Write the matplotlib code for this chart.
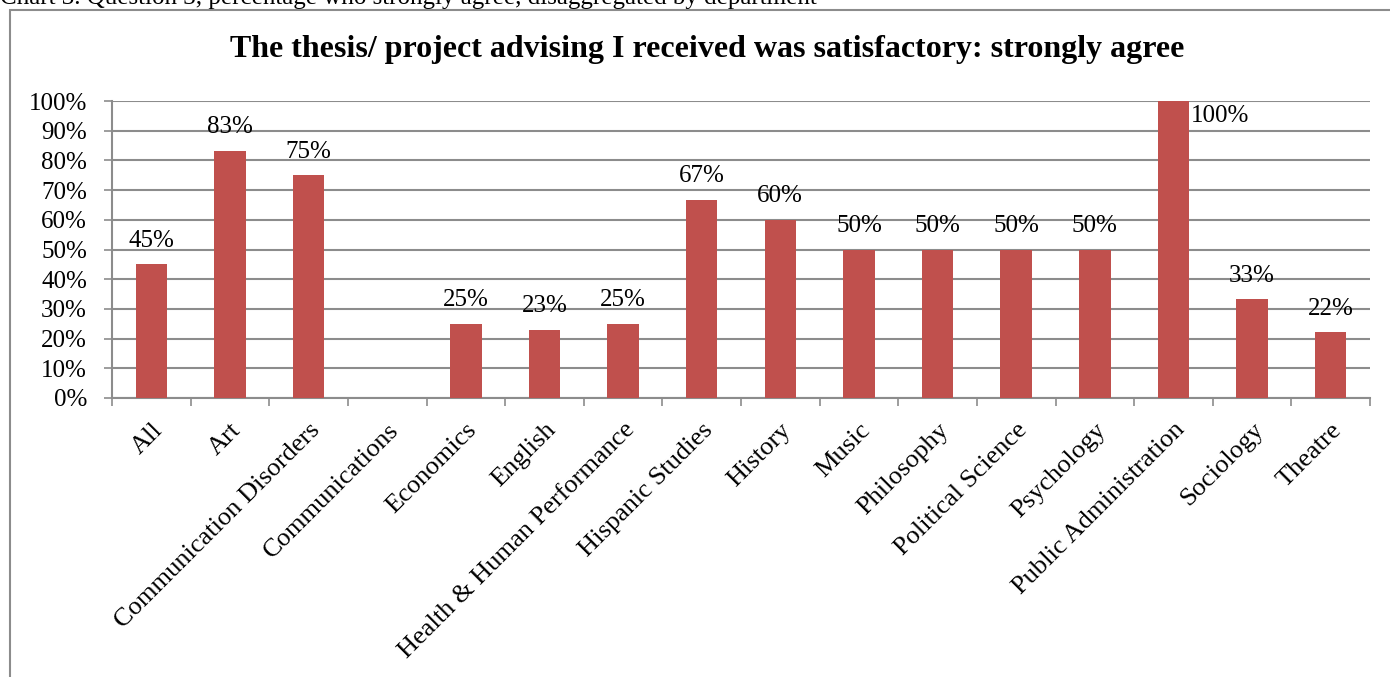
import numpy as np
import matplotlib.pyplot as plt
from matplotlib.patches import Rectangle

departments = ["All", "Art", "Communication Disorders", "Communications", "Economics",
               "English", "Health & Human Performance", "Hispanic Studies", "History",
               "Music", "Philosophy", "Political Science", "Psychology",
               "Public Administration", "Sociology", "Theatre"]
strongly_agree = [45, 83.3, 75, 0, 25, 23, 25, 66.7, 60, 50, 50, 50, 50, 100, 33.3, 22.2]

plt.rcParams['font.family'] = ['Liberation Serif', 'DejaVu Serif']
fs = 18

fig = plt.figure(figsize=(13.9, 6.77), dpi=100)

# outer chart border (partly cut off on the right and bottom)
fig.patches.append(Rectangle((10 / 1390, -0.05), 1.2, 1 - 10 / 677 + 0.05,
                             transform=fig.transFigure, fill=False,
                             edgecolor='#8c8c8c', linewidth=1.5))

# caption above the chart, clipped by the top edge like in the source page
fig.text(0.0, 1 - 4 / 677, "Chart 3. Question 3, percentage who strongly agree, disaggregated by department",
         fontsize=fs, va='baseline', ha='left')

ax = fig.add_axes([112 / 1390, 1 - 398 / 677, (1370 - 112) / 1390, 297 / 677])
x = np.arange(len(departments))
ax.bar(x, strongly_agree, width=0.4, color='#C0504D', zorder=3)

ax.set_ylim(0, 100)
ax.set_xlim(-0.5, len(departments) - 0.5)
ax.set_yticks(np.arange(0, 101, 10))
ax.set_yticklabels([f"{v}%" for v in range(0, 101, 10)], fontsize=fs)
ax.yaxis.grid(True, color='#8c8c8c', linewidth=1.5, zorder=0)
ax.set_axisbelow(True)

ax.set_xticks(x)
ax.set_xticklabels(departments, rotation=45, ha='right', va='top',
                   rotation_mode='anchor', fontsize=19)
ax.tick_params(axis='x', length=0, pad=15)
ax.set_xticks(np.arange(-0.5, len(departments)), minor=True)
ax.tick_params(axis='x', which='minor', length=6, color='#8c8c8c', width=1.2)
ax.tick_params(axis='y', length=6, color='#8c8c8c', width=1.2, pad=12)

for s in ['top', 'right']:
    ax.spines[s].set_visible(False)
for s in ['left', 'bottom']:
    ax.spines[s].set_color('#8c8c8c')
    ax.spines[s].set_linewidth(1.5)

for xi, v in zip(x, strongly_agree):
    if v == 0:
        continue
    if v >= 100:
        ax.annotate(f"{v:.0f}%", (xi + 0.2, v), xytext=(1, -3), textcoords='offset points',
                    ha='left', va='top', fontsize=fs)
    else:
        ax.annotate(f"{v:.0f}%", (xi, v), xytext=(0, 9), textcoords='offset points',
                    ha='center', va='bottom', fontsize=fs)

fig.text(707 / 1390, 1 - 50 / 677, "The thesis/ project advising I received was satisfactory: strongly agree",
         ha='center', va='center', fontsize=23, fontweight='bold')

fig.savefig("out.png", dpi=100)
